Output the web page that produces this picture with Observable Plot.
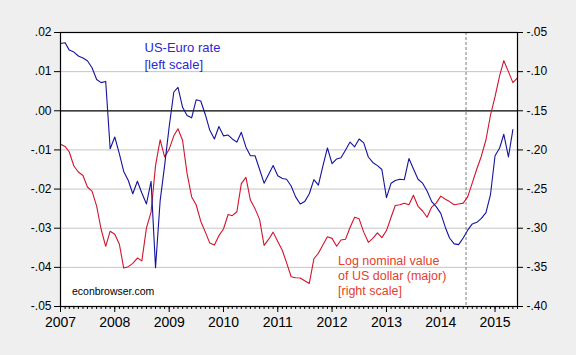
<!DOCTYPE html>
<html><head><meta charset="utf-8">
<script src="https://cdn.jsdelivr.net/npm/d3@7"></script>
<script src="https://cdn.jsdelivr.net/npm/@observablehq/plot@0.6"></script>
<style>
html,body{margin:0;padding:0;background:#efefef;}
#chart svg{display:block;}
</style></head><body><div id="chart"></div>
<script>
// Monthly observations starting January 2007
const startYear = 2007;

// US-Euro rate [left scale]
const usEuroRate = [
  0.0172, 0.0174, 0.0155, 0.0150, 0.0140, 0.0135, 0.0128, 0.0110, 0.0080, 0.0072,
  0.0075, -0.0097, -0.0067, -0.0110, -0.0155, -0.0178, -0.0212, -0.0180, -0.0210, -0.0238,
  -0.0180, -0.0401, -0.0230, -0.0140, -0.0040, 0.0048, 0.0060, 0.0009, -0.0012, -0.0018,
  0.0028, 0.0025, -0.0010, -0.0050, -0.0072, -0.0040, -0.0064, -0.0062, -0.0072, -0.0080,
  -0.0055, -0.0093, -0.0115, -0.0115, -0.0150, -0.0185, -0.0162, -0.0140, -0.0166, -0.0173,
  -0.0175, -0.0192, -0.0220, -0.0238, -0.0232, -0.0212, -0.0176, -0.0190, -0.0140, -0.0095,
  -0.0135, -0.0123, -0.0120, -0.0100, -0.0080, -0.0092, -0.0072, -0.0082, -0.0118, -0.0132,
  -0.0140, -0.0150, -0.0222, -0.0185, -0.0178, -0.0175, -0.0176, -0.0122, -0.0148, -0.0175,
  -0.0185, -0.0205, -0.0232, -0.0245, -0.0262, -0.0298, -0.0325, -0.0340, -0.0342, -0.0325,
  -0.0305, -0.0289, -0.0285, -0.0275, -0.0260, -0.0215, -0.0115, -0.0095, -0.0060, -0.0118,
  -0.0048
];

// Log nominal value of US dollar (major) [right scale]
const logDollar = [
  -0.1927, -0.1955, -0.2026, -0.2205, -0.2282, -0.2327, -0.2474, -0.2526, -0.2718, -0.3013,
  -0.3231, -0.3038, -0.3077, -0.3205, -0.3509, -0.3491, -0.3449, -0.3381, -0.3417, -0.2996,
  -0.2795, -0.2200, -0.1870, -0.2090, -0.1990, -0.1820, -0.1730, -0.1880, -0.2300, -0.2600,
  -0.2700, -0.2910, -0.3050, -0.3190, -0.3215, -0.3095, -0.3010, -0.2825, -0.2840, -0.2790,
  -0.2430, -0.2350, -0.2640, -0.2750, -0.2890, -0.3220, -0.3140, -0.3050, -0.3170, -0.3285,
  -0.3440, -0.3620, -0.3632, -0.3635, -0.3670, -0.3705, -0.3390, -0.3320, -0.3210, -0.3110,
  -0.3130, -0.3230, -0.3150, -0.3140, -0.2990, -0.2860, -0.2880, -0.3050, -0.3180, -0.3130,
  -0.3060, -0.3120, -0.3030, -0.2860, -0.2710, -0.2700, -0.2680, -0.2700, -0.2580, -0.2720,
  -0.2780, -0.2860, -0.2730, -0.2680, -0.2590, -0.2630, -0.2660, -0.2700, -0.2690, -0.2680,
  -0.2600, -0.2420, -0.2240, -0.2080, -0.1870, -0.1560, -0.1320, -0.1050, -0.0860, -0.1000,
  -0.1140, -0.1080
];

const yearTicks = [2007, 2008, 2009, 2010, 2011, 2012, 2013, 2014, 2015];
const leftTicks = [0.02, 0.01, 0, -0.01, -0.02, -0.03, -0.04, -0.05];
const leftTickLabels = [".02", ".01", ".00", "-.01", "-.02", "-.03", "-.04", "-.05"];
const rightTicks = [-0.05, -0.10, -0.15, -0.20, -0.25, -0.30, -0.35, -0.40];
const rightTickLabels = ["-.05", "-.10", "-.15", "-.20", "-.25", "-.30", "-.35", "-.40"];
const gridValues = [0.01, -0.01, -0.02, -0.03, -0.04];
const zeroLine = [0];
const markerDate = [new Date(2014, 5, 20)];
const blueLabel = ["US-Euro rate", "[left scale]"];
const redLabel = ["Log nominal value", "of US dollar (major)", "[right scale]"];
const sourceLabel = ["econbrowser.com"];

const month = i => new Date(startYear, i, 1);
// right scale r maps onto left scale: -0.40..-0.05 -> -0.05..0.02
const toLeft = r => (r + 0.15) / 5;
const rightTickPos = rightTicks.map(toLeft);

const blueData = usEuroRate.map((v, i) => ({date: month(i), value: v}));
const redData = logDollar.map((v, i) => ({date: month(i), value: v}));
const yearDates = yearTicks.map(y => new Date(y, 0, 1));
const monthDates = d3.range(0, 102).map(month);

const fontFamily = '"Liberation Sans", Arial, sans-serif';
const blueLine = "#13139c", blueText = "#2a2ad2";
const redLine = "#d0142e", redText = "#e4402e";

const chart = Plot.plot({
  width: 576, height: 355,
  marginLeft: 60, marginRight: 59, marginTop: 32, marginBottom: 49,
  style: {background: "#efefef", fontFamily, color: "black", overflow: "visible"},
  x: {type: "time", domain: [month(0), month(101)]},
  y: {domain: [-0.05, 0.02]},
  marks: [
    Plot.frame({fill: "white", stroke: null}),
    Plot.ruleY(gridValues, {stroke: "#c4c4c4", strokeWidth: 1}),
    Plot.ruleY(zeroLine, {stroke: "black", strokeWidth: 1.2}),
    Plot.ruleX(markerDate, {stroke: "#7a7a7a", strokeDasharray: "3,2", strokeWidth: 1}),
    Plot.line(redData, {x: "date", y: d => toLeft(d.value), stroke: redLine, strokeWidth: 1.1}),
    Plot.line(blueData, {x: "date", y: "value", stroke: blueLine, strokeWidth: 1.1}),
    Plot.frame({stroke: "black", strokeWidth: 1.2}),
    Plot.axisY({anchor: "left", ticks: leftTicks, tickFormat: d => leftTickLabels[leftTicks.indexOf(d)],
      tickSize: 6, tickPadding: 3, fontSize: 12, label: null}),
    Plot.axisY({anchor: "right", ticks: rightTickPos, tickFormat: d => rightTickLabels[rightTickPos.indexOf(d)],
      tickSize: 5, tickPadding: 4, fontSize: 12, label: null}),
    Plot.axisX({ticks: monthDates, tickSize: 3, tickFormat: () => "", label: null}),
    Plot.axisX({ticks: yearDates, tickFormat: d => String(d.getFullYear()),
      tickSize: 6, tickPadding: 5, fontSize: 14, label: null}),
    Plot.text([blueLabel.join("\n")], {text: d => d, frameAnchor: "top-left", dx: 84, dy: 7.5,
      textAnchor: "start", lineAnchor: "top", lineHeight: 1.3, fontSize: 13, fill: blueText}),
    Plot.text([redLabel.join("\n")], {text: d => d, frameAnchor: "top-left", dx: 277.5, dy: 221.5,
      textAnchor: "start", lineAnchor: "top", lineHeight: 1.2, fontSize: 12.5, fill: redText}),
    Plot.text(sourceLabel, {text: d => d, frameAnchor: "top-left", dx: 11.5, dy: 255,
      textAnchor: "start", lineAnchor: "top", fontSize: 10.5, fill: "black"})
  ]
});
document.getElementById("chart").append(chart);
</script>
</body></html>
